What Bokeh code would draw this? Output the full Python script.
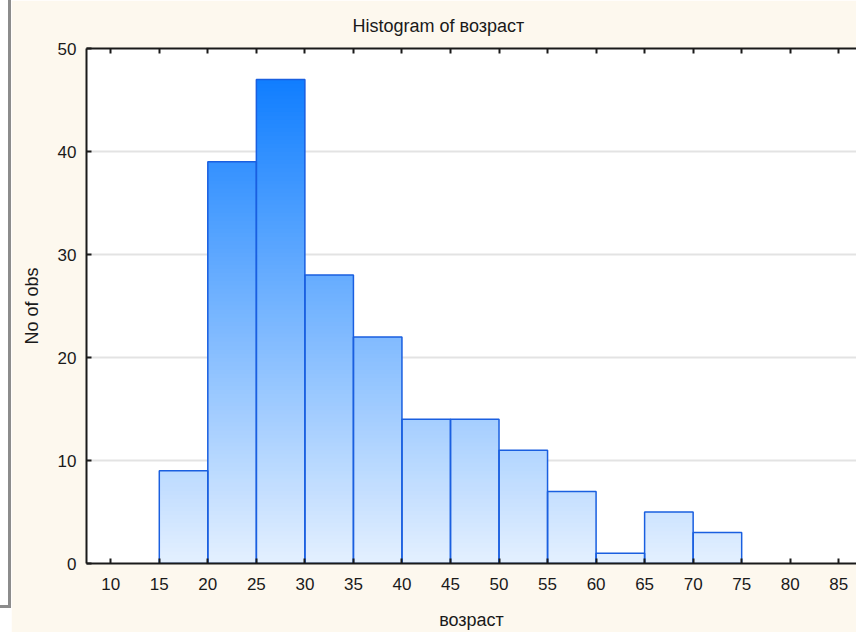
from bokeh.plotting import figure
from bokeh.models import Range1d, LinearAxis, FixedTicker, Div, Title, ColumnDataSource
from bokeh.layouts import row
from bokeh.embed import file_html
from bokeh.resources import INLINE

# ---- data ----
bin_left = [15, 20, 25, 30, 35, 40, 45, 50, 55, 60, 65, 70]
bin_width = 5
counts = [9, 39, 47, 28, 22, 14, 14, 11, 7, 1, 5, 3]
x_ticks = [10, 15, 20, 25, 30, 35, 40, 45, 50, 55, 60, 65, 70, 75, 80, 85]
y_ticks = [0, 10, 20, 30, 40, 50]
title_text = "Histogram of возраст"
x_label = "возраст"
y_label = "No of obs"

FONT = "Liberation Sans"
CREAM = "#FDF8EE"

p = figure(width=845, height=632,
           x_range=Range1d(7.5, 86.83), y_range=Range1d(0, 50),
           output_backend="svg", toolbar_location=None,
           x_axis_location=None, y_axis_location=None,
           min_border_left=75, min_border_right=0,
           min_border_top=47, min_border_bottom=68)
p.background_fill_color = "white"
p.border_fill_color = CREAM
p.outline_line_color = None

# grid
p.xgrid.grid_line_color = None
p.ygrid.ticker = FixedTicker(ticks=y_ticks)
p.ygrid.grid_line_color = "#E3E3E3"
p.ygrid.grid_line_width = 2

# gradient fill (colour depends on absolute height), painter's order
ymax = max(counts)
N = 120
dark = (16, 126, 255)
light = (228, 240, 255)
L, R, B, T, C = [], [], [], [], []
for k in range(N - 1, -1, -1):
    y0 = k * ymax / N
    y1 = (k + 1) * ymax / N
    t = (y0 + y1) / 2 / ymax
    col = "#%02x%02x%02x" % tuple(int(round(light[i] + t * (dark[i] - light[i]))) for i in range(3))
    for bl, c in zip(bin_left, counts):
        if c > y0:
            L.append(bl)
            R.append(bl + bin_width)
            B.append(0)
            T.append(min(c, y1))
            C.append(col)
src = ColumnDataSource(dict(left=L, right=R, bottom=B, top=T, color=C))
p.quad(left="left", right="right", bottom="bottom", top="top", source=src,
       fill_color="color", line_color=None)

# bar outlines
osrc = ColumnDataSource(dict(left=bin_left, right=[b + bin_width for b in bin_left],
                             top=counts, bottom=[0] * len(counts)))
p.quad(left="left", right="right", bottom="bottom", top="top", source=osrc,
       fill_color=None, line_color="#1a5fe0", line_width=1.5)

def style_axis(ax):
    ax.axis_line_color = "#1a1a1a"
    ax.axis_line_width = 2
    ax.major_tick_line_color = "#1a1a1a"
    ax.major_tick_line_width = 2
    ax.major_tick_in = 5
    ax.major_tick_out = 0
    ax.minor_tick_line_color = None
    ax.major_label_text_font = FONT
    ax.major_label_text_font_size = "17px"
    ax.major_label_text_color = "#1a1a1a"
    ax.axis_label_text_font = FONT
    ax.axis_label_text_font_size = "18px"
    ax.axis_label_text_font_style = "normal"
    ax.axis_label_text_color = "#1a1a1a"

xa = LinearAxis(ticker=FixedTicker(ticks=x_ticks), axis_label=x_label)
style_axis(xa)
xa.major_label_standoff = 14
xa.axis_label_standoff = 17
p.add_layout(xa, "below")

ya = LinearAxis(ticker=FixedTicker(ticks=y_ticks), axis_label=y_label)
style_axis(ya)
ya.major_label_standoff = 10
ya.axis_label_standoff = 13
p.add_layout(ya, "left")

ta = LinearAxis(ticker=FixedTicker(ticks=x_ticks))
style_axis(ta)
ta.major_label_overrides = {t: "" for t in x_ticks}
ta.major_label_standoff = 0
p.add_layout(ta, "above")

title = Title(text=title_text, align="left", offset=266,
              text_font=FONT, text_font_size="18px", text_font_style="normal",
              text_color="#1a1a1a", standoff=26)
p.add_layout(title, "above")

edge = Div(width=11, height=608, margin=0,
           styles={"background-color": "white",
                   "border-right": "3px solid #8c8c8c",
                   "border-bottom": "3px solid #8c8c8c",
                   "box-sizing": "border-box"})
layout = row(edge, p, spacing=0)

open("out.html", "w").write(file_html(layout, INLINE))
